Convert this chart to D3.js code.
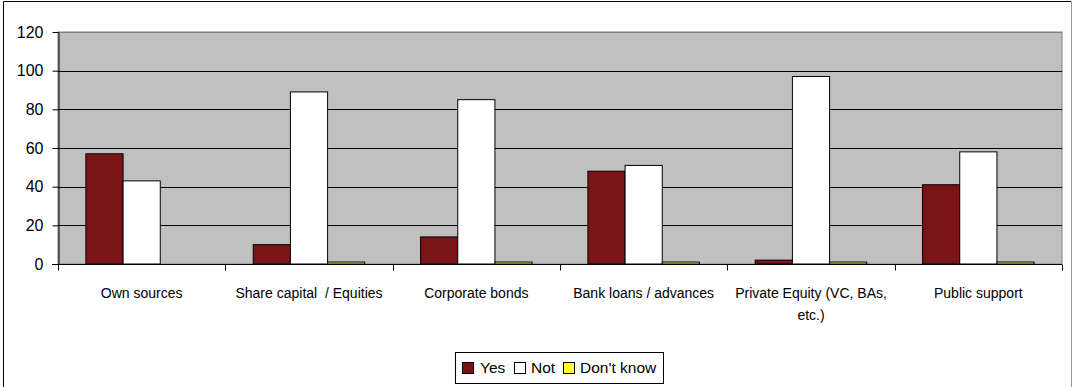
<!DOCTYPE html>
<html>
<head>
<meta charset="utf-8">
<script src="https://cdn.jsdelivr.net/npm/d3@7"></script>
<style>
  body { margin: 0; background: #fff; }
  svg { display: block; font-family: "Liberation Sans", Arial, sans-serif; }
  .y-axis text { font-size: 16px; font-family: "Liberation Sans", Arial, sans-serif; fill: #000; }
</style>
</head>
<body>
<div id="vis"></div>
<script>
const categories = [
  ["Own sources"],
  ["Share capital  / Equities"],
  ["Corporate bonds"],
  ["Bank loans / advances"],
  ["Private Equity (VC, BAs,", "etc.)"],
  ["Public support"]
];
const seriesNames = ["Yes", "Not", "Don't know"];
const yesValues = [57, 10, 14, 48, 2, 41];
const notValues = [43, 89, 85, 51, 97, 58];
const dontKnowValues = [0, 1, 1, 1, 1, 1];
const yTicks = [0, 20, 40, 60, 80, 100, 120];
const colors = ["#7b1416", "#ffffff", "#ffff33"];

const width = 1073;
const height = 387;
const margin = { left: 58, right: 11, top: 32, bottom: 123 };

const svg = d3.select("#vis")
  .append("svg")
  .attr("width", width)
  .attr("height", height);

// chart frame
svg.append("path")
  .attr("d", `M3.5,${height} V1.5 H1071.5`)
  .attr("fill", "none")
  .attr("stroke", "#000");
svg.append("line")
  .attr("x1", 1071.5).attr("x2", 1071.5)
  .attr("y1", 1).attr("y2", height)
  .attr("stroke", "#999");

const x0 = d3.scaleBand()
  .domain(d3.range(categories.length))
  .range([margin.left, width - margin.right])
  .paddingInner(0)
  .paddingOuter(0);

const x1 = d3.scaleBand()
  .domain(d3.range(seriesNames.length))
  .range([0, x0.bandwidth()])
  .paddingOuter(0.75)
  .paddingInner(0);

const y = d3.scaleLinear()
  .domain([0, 120])
  .range([height - margin.bottom, margin.top]);

// plot area
svg.append("rect")
  .attr("x", margin.left)
  .attr("y", margin.top)
  .attr("width", width - margin.right - margin.left)
  .attr("height", y(0) - margin.top)
  .attr("fill", "#c0c0c0")
  .attr("stroke", "#808080");

// gridlines
svg.append("g")
  .selectAll("line")
  .data(yTicks.filter(d => d > 0))
  .join("line")
  .attr("x1", margin.left)
  .attr("x2", width - margin.right)
  .attr("y1", d => Math.round(y(d)) + 0.5)
  .attr("y2", d => Math.round(y(d)) + 0.5)
  .attr("stroke", d => d === 120 ? "#808080" : "#000");

// y axis
const yAxis = svg.append("g")
  .attr("class", "y-axis")
  .attr("transform", `translate(${margin.left + 0.5},0)`)
  .call(d3.axisLeft(y).tickValues(yTicks).tickSize(6).tickPadding(9).tickSizeOuter(0));
yAxis.select(".domain").attr("stroke", "#000");
yAxis.selectAll(".tick line").attr("stroke", "#000");

// bars
const series = [yesValues, notValues, dontKnowValues];
const bars = [];
categories.forEach((c, i) => {
  series.forEach((vals, s) => {
    bars.push({ cat: i, s, v: vals[i] });
  });
});

svg.append("g")
  .selectAll("rect")
  .data(bars.filter(d => d.v > 0))
  .join("rect")
  .attr("x", d => x0(d.cat) + x1(d.s))
  .attr("y", d => y(d.v))
  .attr("width", x1.bandwidth())
  .attr("height", d => y(0) - y(d.v))
  .attr("fill", d => colors[d.s])
  .attr("stroke", "#000")
  .attr("stroke-width", 1);

// x axis
const xAxisY = Math.round(y(0)) + 0.5;
svg.append("line")
  .attr("x1", margin.left - 6)
  .attr("x2", width - margin.right)
  .attr("y1", xAxisY).attr("y2", xAxisY)
  .attr("stroke", "#000");

const boundaries = d3.range(categories.length + 1).map(i =>
  i < categories.length ? x0(i) : x0(categories.length - 1) + x0.bandwidth());
svg.append("g")
  .selectAll("line")
  .data(boundaries)
  .join("line")
  .attr("x1", d => Math.round(d) + 0.5)
  .attr("x2", d => Math.round(d) + 0.5)
  .attr("y1", xAxisY)
  .attr("y2", xAxisY + 6)
  .attr("stroke", "#000");

const labels = svg.append("g")
  .selectAll("text")
  .data(categories)
  .join("text")
  .attr("text-anchor", "middle")
  .attr("font-size", 14)
  .attr("fill", "#000")
  .style("white-space", "pre")
  .attr("x", (d, i) => x0(i) + x0.bandwidth() / 2)
  .attr("y", 298);
labels.selectAll("tspan")
  .data(d => d)
  .join("tspan")
  .attr("x", function() { return d3.select(this.parentNode).attr("x"); })
  .attr("dy", (d, i) => i === 0 ? 0 : 22)
  .text(d => d);

// legend
const legend = svg.append("g");
legend.append("rect")
  .attr("x", 455.5).attr("y", 352.5)
  .attr("width", 208).attr("height", 31)
  .attr("fill", "#fff")
  .attr("stroke", "#000");

const legendItems = [
  { name: seriesNames[0], x: 462, tx: 480 },
  { name: seriesNames[1], x: 514, tx: 531 },
  { name: seriesNames[2], x: 563, tx: 580 }
];
legendItems.forEach((d, i) => {
  legend.append("rect")
    .attr("x", d.x + 0.5).attr("y", 362.5)
    .attr("width", 11).attr("height", 11)
    .attr("fill", colors[i])
    .attr("stroke", "#000");
  legend.append("text")
    .attr("x", d.tx)
    .attr("y", 373)
    .attr("font-size", 15.5)
    .attr("fill", "#000")
    .text(d.name);
});
</script>
</body>
</html>
